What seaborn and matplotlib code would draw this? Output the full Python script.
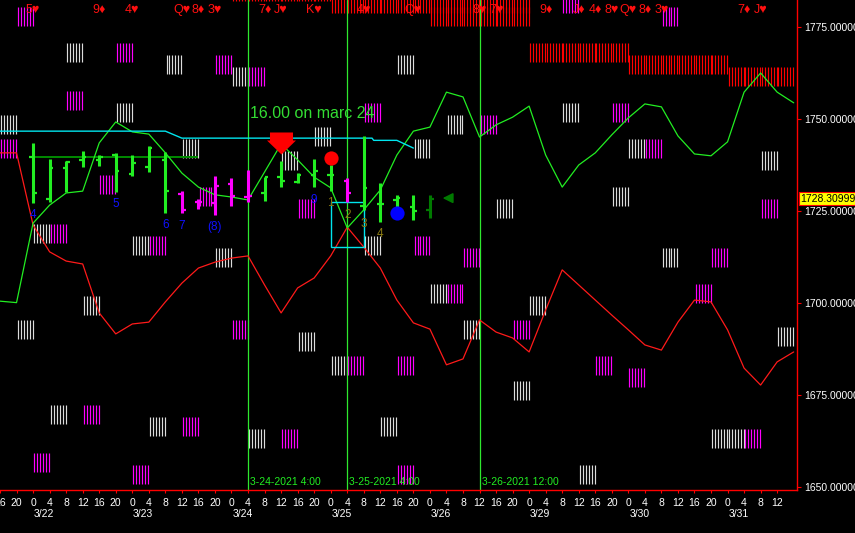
import matplotlib
matplotlib.use("Agg")
import matplotlib.pyplot as plt
from matplotlib.path import Path
from matplotlib.patches import Rectangle
import numpy as np
import pandas as pd
import seaborn as sns

# x = bar number, one bar = 4 hours, 0 = 3/22 0:00 (weekend left out)
line_idx = list(range(-2, 47))
green_line = [1700.5, 1700.1, 1721.7, 1726.6, 1729.9, 1730.4, 1743.5, 1749.2, 1746.5, 1745.9,
              1740.8, 1735.3, 1731.5, 1729.4, 1728.8, 1728.0, 1735.6, 1743.2, 1738.9, 1734.2,
              1731.3, 1720.4, 1725.3, 1730.7, 1740.2, 1746.7, 1747.8, 1757.3, 1756.0, 1745.1,
              1748.4, 1750.5, 1753.5, 1740.2, 1731.5, 1737.5, 1740.8, 1745.7, 1750.3, 1754.1,
              1753.3, 1745.4, 1740.5, 1740.0, 1743.8, 1757.3, 1762.5, 1757.3, 1754.4]
red_line = [1740.8, 1740.8, 1721.2, 1713.9, 1711.4, 1710.6, 1697.3, 1691.6, 1694.3, 1694.8,
            1700.3, 1705.4, 1709.5, 1711.1, 1712.2, 1712.8, 1704.9, 1697.3, 1704.1, 1706.8,
            1712.8, 1720.6, 1715.2, 1709.5, 1700.8, 1694.6, 1692.9, 1683.2, 1684.8, 1695.4,
            1692.1, 1690.5, 1686.7, 1698.1, 1709.0, 1704.9, 1700.8, 1696.7, 1692.7, 1688.6,
            1687.2, 1694.8, 1700.8, 1700.3, 1692.7, 1682.3, 1677.7, 1684.0, 1686.7]
cyan_idx = [-2, 8, 9, 20.5, 20.6, 22, 23]
cyan_line = [1746.7, 1746.7, 1744.8, 1744.8, 1744.2, 1744.2, 1742.1]

# price bars
bar_idx = list(range(25))
opens = [1739.8, 1728.3, 1736.6, 1738.9, 1738.9, 1740.2, 1735.1, 1737.0, 1738.9, 1729.6,
         1727.4, 1727.1, 1732.3, 1728.9, 1729.8, 1734.2, 1733.0, 1734.8, 1734.8, 1733.2,
         1726.4, 1727.0, 1728.0, 1726.0, 1725.3]
highs = [1743.4, 1739.0, 1738.6, 1741.3, 1740.2, 1740.7, 1740.2, 1742.7, 1741.1, 1730.4,
         1728.3, 1734.5, 1734.0, 1736.1, 1734.2, 1738.6, 1735.2, 1739.0, 1737.5, 1733.9,
         1745.4, 1732.5, 1729.3, 1729.3, 1729.3]
lows = [1727.1, 1727.5, 1730.2, 1737.0, 1737.2, 1730.2, 1734.6, 1735.7, 1724.5, 1724.4,
        1725.5, 1723.9, 1726.4, 1727.5, 1727.8, 1731.6, 1732.5, 1731.4, 1730.5, 1727.5,
        1725.3, 1722.1, 1726.0, 1722.6, 1723.0]
closes = [1729.8, 1736.6, 1738.4, 1739.8, 1739.8, 1736.0, 1738.0, 1742.0, 1730.4, 1725.3,
          1727.4, 1731.9, 1729.0, 1729.0, 1734.2, 1733.2, 1734.8, 1736.0, 1734.8, 1730.0,
          1731.3, 1726.9, 1728.5, 1725.1, 1728.31]
bar_kind = ['g'] * 9 + ['m'] * 5 + ['g'] * 5 + ['m'] + ['g'] * 4 + ['d']

# striped blocks: (kind, bar, top price)
blocks = [('w', 2, 1770.65), ('m', 5, 1770.65),
          ('w', 8, 1767.39), ('m', 11, 1767.39), ('w', 22, 1767.39),
          ('w', 12, 1764.13), ('m', 13, 1764.13),
          ('m', 2, 1757.61),
          ('w', 5, 1754.35), ('m', 20, 1754.35), ('w', 32, 1754.35), ('m', 35, 1754.35),
          ('w', -2, 1751.09), ('w', 25, 1751.09), ('m', 27, 1751.09),
          ('w', 17, 1747.83),
          ('m', -2, 1744.57), ('w', 9, 1744.57), ('w', 23, 1744.57), ('w', 36, 1744.57), ('m', 37, 1744.57),
          ('w', 15, 1741.30), ('w', 44, 1741.30),
          ('m', 4, 1734.78),
          ('m', 10, 1731.52), ('w', 35, 1731.52),
          ('m', 16, 1728.26), ('w', 28, 1728.26), ('m', 44, 1728.26),
          ('w', 0, 1721.47), ('m', 1, 1721.47),
          ('w', 6, 1718.21), ('m', 7, 1718.21), ('w', 20, 1718.21), ('m', 23, 1718.21),
          ('w', 11, 1714.95), ('m', 26, 1714.95), ('w', 38, 1714.95), ('m', 41, 1714.95),
          ('w', 24, 1705.16), ('m', 25, 1705.16), ('m', 40, 1705.16),
          ('w', 3, 1701.90), ('w', 30, 1701.90),
          ('w', -1, 1695.38), ('m', 12, 1695.38), ('w', 26, 1695.38), ('m', 29, 1695.38),
          ('w', 16, 1692.12), ('w', 45, 1693.5),
          ('w', 18, 1685.60), ('m', 19, 1685.60), ('m', 22, 1685.60), ('m', 34, 1685.60),
          ('m', 36, 1682.3),
          ('w', 29, 1678.80),
          ('w', 1, 1672.28), ('m', 3, 1672.28),
          ('w', 7, 1669.02), ('m', 9, 1669.02), ('w', 21, 1669.02),
          ('w', 13, 1665.76), ('m', 15, 1665.76), ('w', 41, 1665.76), ('w', 42, 1665.76), ('m', 43, 1665.76),
          ('m', 0, 1659.24),
          ('m', 6, 1655.98), ('m', 22, 1655.98), ('w', 33, 1655.98),
          ('m', -1, 1780.5), ('m', 38, 1780.5), ('m', 32, 1784.0)]
red_rows = [(12, 17, 1787.2), (18, 29, 1784.0), (24, 29, 1780.5),
            (30, 35, 1770.65), (36, 41, 1767.39), (42, 45, 1764.13)]
block_h = 5.16

cards = [(0, '5♥'), (4, '9♦'), (6, '4♥'), (9, 'Q♥'), (10, '8♦'), (11, '3♥'),
         (14, '7♦'), (15, 'J♥'), (17, 'K♥'), (20, '4♥'), (23, 'Q♥'), (27, '8♥'),
         (28, '7♥'), (31, '9♦'), (33, 'J♦'), (34, '4♦'), (35, '8♥'), (36, 'Q♥'),
         (37, '8♦'), (38, '3♥'), (43, '7♦'), (44, 'J♥')]
blue_nums = [(0, 1723.9, '4'), (5, 1726.9, '5'), (8, 1721.2, '6'), (9, 1720.9, '7'),
             (11, 1720.7, '(8)'), (17, 1728.0, '9')]
olive_nums = [(18, 1727.2, '1'), (19, 1723.9, '2'), (20, 1721.5, '3'), (21, 1718.8, '4')]

mark_lines = [(13, '3-24-2021 4:00'), (19, '3-25-2021 4:00'), (27, '3-26-2021 12:00')]
day_starts = [0, 6, 12, 18, 24, 30, 36, 42]
day_names = ['3/22', '3/23', '3/24', '3/25', '3/26', '3/29', '3/30', '3/31']
signal_bar, signal_price, signal_text = 15, 1740.6, '16.00 on marc 24'
red_dot = (18, 1739.4)
blue_dot = (22, 1724.5)
box_x, box_y, box_w, box_h = 18, 1715.2, 2, 12.2
level_price, level_from, level_to = 1739.8, -0.1, 10
last_price, last_label = 1728.31, '1728.30999'
y_ticks = [1650, 1675, 1700, 1725, 1750, 1775]

sns.set_theme(style="dark", rc={"axes.facecolor": "black", "figure.facecolor": "black"})
plt.rcParams['font.family'] = ['Liberation Sans', 'DejaVu Sans']

fig = plt.figure(figsize=(8.55, 5.33), dpi=100)
ax = fig.add_axes([0, 43 / 533, 797 / 855, 490 / 533])
ax.set_facecolor('black')
ax.grid(False)

cols = {'w': '#dcdcdc', 'm': '#ff00ff', 'r': '#ff0000', 'g': '#22ee22', 'd': '#007a00'}
offs = 0.07 + 0.18 * np.arange(6)
for kind, k, top in blocks:
    ax.vlines(k + offs, top - block_h, top, color=cols[kind], lw=0.85, zorder=1)
for k0, k1, top in red_rows:
    for k in range(k0, k1 + 1):
        ax.vlines(k + offs, top - block_h, top, color=cols['r'], lw=0.85, zorder=1)

for x, lab in mark_lines:
    ax.axvline(x, color='#2ee82e', lw=0.9, zorder=2)
    ax.text(x + 0.12, 0.0165, lab, transform=ax.get_xaxis_transform(), color='#22ee22',
            fontsize=7.5, va='center', ha='left', zorder=6)

ax.hlines(level_price, level_from, level_to, color='#008a00', lw=1.4, zorder=2)

lines = pd.DataFrame({'bar': line_idx, 'green': green_line, 'red': red_line})
sns.lineplot(data=lines, x='bar', y='red', color='#ff1a1a', lw=0.9, ax=ax, zorder=3)
sns.lineplot(data=lines, x='bar', y='green', color='#22ee22', lw=0.9, ax=ax, zorder=3)
sns.lineplot(x=cyan_idx, y=cyan_line, color='#00e5ee', lw=1.0, ax=ax, zorder=3,
             sort=False, estimator=None)

ax.add_patch(Rectangle((box_x, box_y), box_w, box_h, fill=False, ec='#00e5ee', lw=1.0, zorder=4))

for i, o, h, l, c, kd in zip(bar_idx, opens, highs, lows, closes, bar_kind):
    col = cols[kd]
    ax.vlines(i, l, h, color=col, lw=2.2, zorder=4)
    ax.hlines(o, i - 0.22, i, color=col, lw=1.6, zorder=4)
    ax.hlines(c, i, i + 0.22, color=col, lw=1.6, zorder=4)

ax.scatter([red_dot[0]], [red_dot[1]], s=105, color='#ff0000', zorder=5, linewidths=0)
ax.scatter([blue_dot[0]], [blue_dot[1]], s=105, color='#0000ff', zorder=5, linewidths=0)

arrow = Path([(0, 0), (14.5, 14), (11.5, 14), (11.5, 22), (-11.5, 22), (-11.5, 14),
              (-14.5, 14), (0, 0)], closed=True)
ax.plot([signal_bar], [signal_price], marker=arrow, markersize=31.7, color='#ff0000',
        markeredgewidth=0, linestyle='none', zorder=6)
ax.text(signal_bar - 1.9, 1751.4, signal_text, color='#33dd33', fontsize=11.5,
        va='center', ha='left', zorder=6)

ax.annotate('', xy=(24.6, 1728.5), xytext=(25.3, 1728.5),
            arrowprops=dict(arrowstyle='-|>,head_length=0.5,head_width=0.25',
                            color='#007a00', lw=1.2), zorder=6)

for x, y, t in blue_nums:
    ax.text(x, y, t, color='#1010ff', fontsize=8.5, ha='center', va='center', zorder=6)
for x, y, t in olive_nums:
    ax.text(x, y, t, color='#8a7a10', fontsize=8.5, ha='center', va='center', zorder=6)
for x, t in cards:
    ax.text(x, 1779.6, t, color='#ff1010', fontsize=9, ha='center', va='center', zorder=6,
            family=['Liberation Sans', 'DejaVu Sans'])

ax.set_xlim(-1.807, 46.2)
ax.set_ylim(1649.18, 1782.34)

ax.set_xticks(range(-2, 46))
ax.set_xticklabels([str((i % 6) * 4) for i in range(-2, 46)])
for d, name in zip(day_starts, day_names):
    ax.text(d + 0.05, -0.049, name, transform=ax.get_xaxis_transform(), color='white',
            fontsize=7.5, ha='left', va='center', clip_on=False)

ax.yaxis.tick_right()
ax.set_yticks(y_ticks)
ax.set_yticklabels([f'{v:.6f}' for v in y_ticks])
ax.tick_params(axis='x', colors='#ff0000', labelcolor='white', labelsize=7.5,
               length=2.5, width=0.8, pad=3, bottom=True)
ax.tick_params(axis='y', colors='#ff0000', labelcolor='white', labelsize=7.5,
               length=3, width=0.8, pad=2, right=True, left=False)
ax.set_xlabel('')
ax.set_ylabel('')
for side in ['top', 'left']:
    ax.spines[side].set_visible(False)
for side in ['right', 'bottom']:
    ax.spines[side].set_color('#ff0000')
    ax.spines[side].set_linewidth(1.0)

ax.text(1.004, last_price, last_label, transform=ax.get_yaxis_transform(),
        color='black', fontsize=7.5, ha='left', va='center', zorder=7, clip_on=False,
        bbox=dict(boxstyle='square,pad=0.15', fc='#ffff00', ec='#ff0000', lw=0.8))

fig.savefig('out.png', dpi=100, facecolor='black')
